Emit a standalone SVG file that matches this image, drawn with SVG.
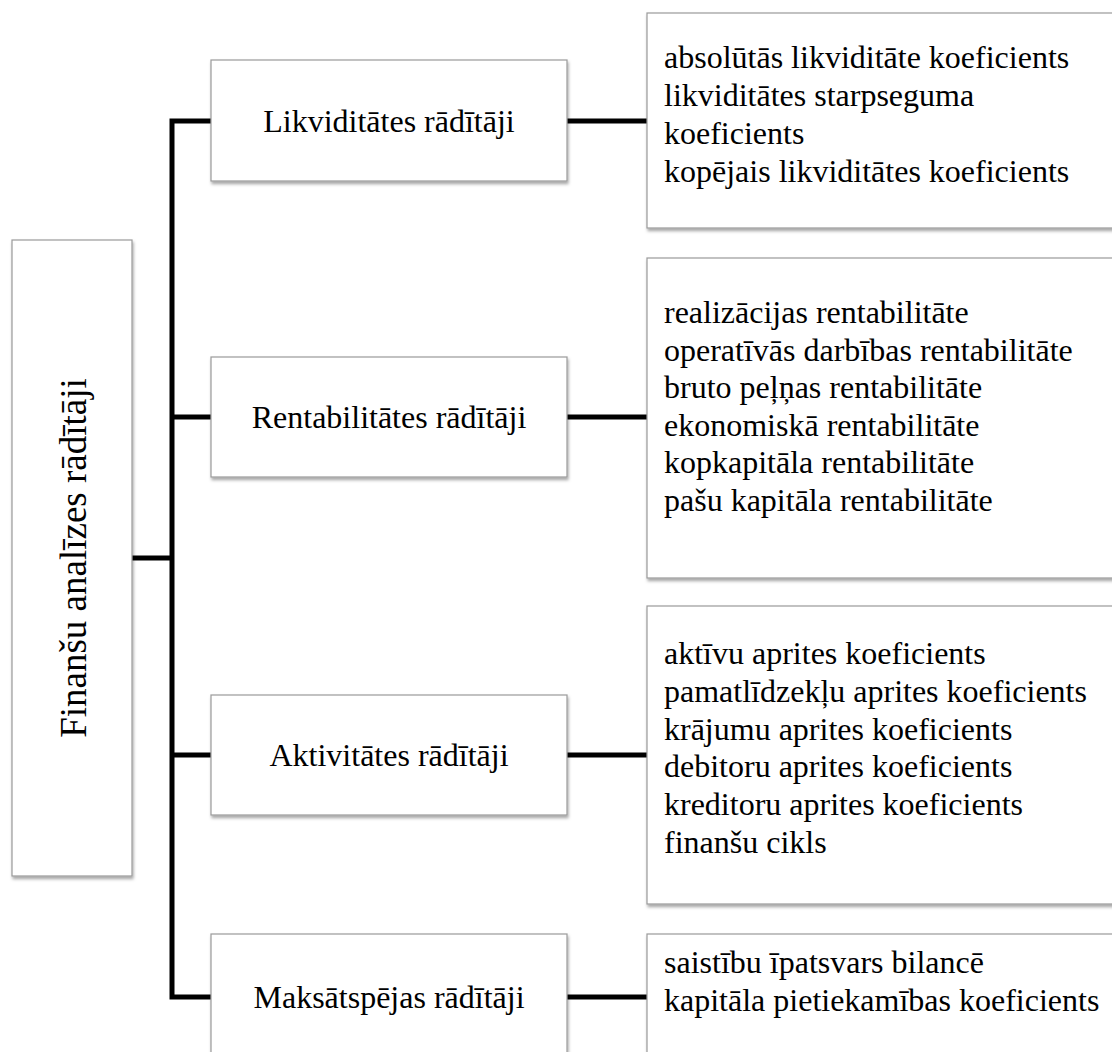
<svg xmlns="http://www.w3.org/2000/svg" width="1112" height="1052" viewBox="0 0 1112 1052">
<defs>
<filter id="sh" x="-5%" y="-5%" width="115%" height="120%">
<feDropShadow dx="1" dy="2.5" stdDeviation="1.5" flood-color="#000" flood-opacity="0.35"/>
</filter>
<style>
.box{fill:#fff;stroke:#9a9a9a;stroke-width:1.2;filter:url(#sh)}
.t{font-family:"Liberation Serif","Times New Roman",serif;font-size:32px;fill:#000}
.c{text-anchor:middle}
.ln{fill:none;stroke:#000;stroke-width:5}
</style>
</defs>
<rect width="1112" height="1052" fill="#fff"/>
<g id="connectors">
<path class="ln" d="M211,121 H172 V997 H211"/>
<path class="ln" d="M132,558 H172"/>
<path class="ln" d="M172,417 H211"/>
<path class="ln" d="M172,755 H211"/>
<path class="ln" d="M567,121 H647"/>
<path class="ln" d="M567,417 H647"/>
<path class="ln" d="M567,755 H647"/>
<path class="ln" d="M567,997 H647"/>
</g>
<g id="root">
<rect class="box" x="12" y="240" width="120" height="636"/>
<text class="t c" transform="translate(86,558) rotate(-90)" style="font-size:37px">Finanšu analīzes rādītāji</text>
</g>
<g id="likv">
<rect class="box" x="211" y="60" width="356" height="121"/>
<text class="t c" x="389" y="132">Likviditātes rādītāji</text>
</g>
<g id="rent">
<rect class="box" x="211" y="357" width="356" height="120"/>
<text class="t c" x="389" y="428">Rentabilitātes rādītāji</text>
</g>
<g id="aktiv">
<rect class="box" x="211" y="695" width="356" height="120"/>
<text class="t c" x="389" y="766">Aktivitātes rādītāji</text>
</g>
<g id="maks">
<rect class="box" x="211" y="934" width="356" height="130"/>
<text class="t c" x="389" y="1008">Maksātspējas rādītāji</text>
</g>
<g id="likv-list">
<rect class="box" x="647" y="13" width="480" height="215"/>
<text class="t" x="664" y="68">absolūtās likviditāte koeficients</text>
<text class="t" x="664" y="106">likviditātes starpseguma</text>
<text class="t" x="664" y="144">koeficients</text>
<text class="t" x="664" y="182">kopējais likviditātes koeficients</text>
</g>
<g id="rent-list">
<rect class="box" x="647" y="258" width="480" height="320"/>
<text class="t" x="664" y="323">realizācijas rentabilitāte</text>
<text class="t" x="664" y="361">operatīvās darbības rentabilitāte</text>
<text class="t" x="664" y="398">bruto peļņas rentabilitāte</text>
<text class="t" x="664" y="436">ekonomiskā rentabilitāte</text>
<text class="t" x="664" y="473">kopkapitāla rentabilitāte</text>
<text class="t" x="664" y="511">pašu kapitāla rentabilitāte</text>
</g>
<g id="aktiv-list">
<rect class="box" x="647" y="606" width="480" height="298"/>
<text class="t" x="664" y="664">aktīvu aprites koeficients</text>
<text class="t" x="664" y="702">pamatlīdzekļu aprites koeficients</text>
<text class="t" x="664" y="740">krājumu aprites koeficients</text>
<text class="t" x="664" y="777">debitoru aprites koeficients</text>
<text class="t" x="664" y="815">kreditoru aprites koeficients</text>
<text class="t" x="664" y="853">finanšu cikls</text>
</g>
<g id="maks-list">
<rect class="box" x="647" y="934" width="480" height="130"/>
<text class="t" x="664" y="973">saistību īpatsvars bilancē</text>
<text class="t" x="664" y="1011">kapitāla pietiekamības koeficients</text>
</g>
</svg>
